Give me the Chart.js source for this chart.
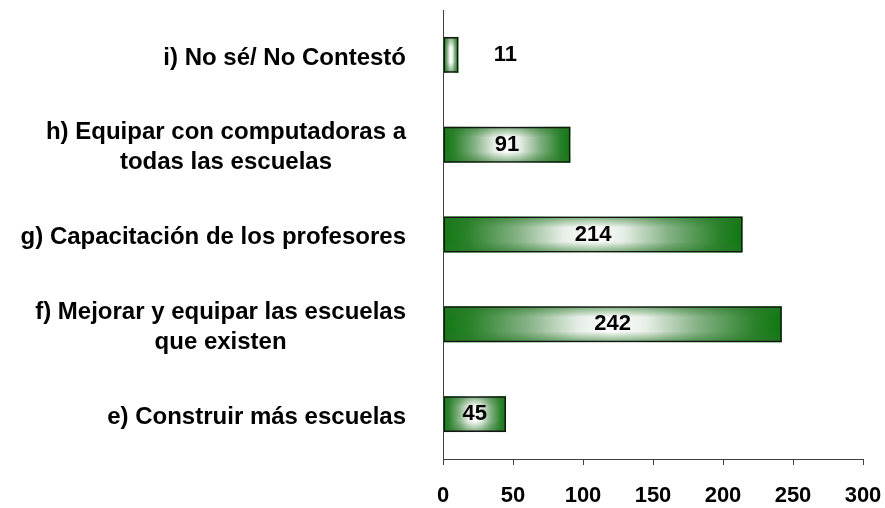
<!DOCTYPE html>
<html><head><meta charset="utf-8">
<script src="https://cdn.jsdelivr.net/npm/chart.js@4"></script>
<style>html,body{margin:0;padding:0;background:#fff}#w{width:885px;height:508px}</style>
</head><body><div id="w"><canvas id="c" width="885" height="508"></canvas></div>
<script>
const categories = [
  ["i) No sé/ No Contestó"],
  ["h) Equipar con computadoras a", "todas las escuelas"],
  ["g) Capacitación de los profesores"],
  ["f) Mejorar y equipar las escuelas", "que existen"],
  ["e) Construir más escuelas"]
];
const values = [11, 91, 214, 242, 45];
const xTicks = [0, 50, 100, 150, 200, 250, 300];

const FONT = '"Liberation Sans", Arial, sans-serif';
const CAT_SIZE = 24, VAL_SIZE = 22, TICK_SIZE = 22;

const barFill = {
  id: 'barFill',
  beforeDatasetsDraw(chart) {
    const ctx = chart.ctx;
    chart.getDatasetMeta(0).data.forEach(b => {
      const l = Math.min(b.base, b.x), r = Math.max(b.base, b.x);
      const t = b.y - b.height / 2, bt = b.y + b.height / 2;
      const w = r - l, h = bt - t;
      const g = ctx.createLinearGradient(l, 0, r, 0);
      g.addColorStop(0, '#147814');
      g.addColorStop(0.08, '#2a822a');
      g.addColorStop(0.25, '#86b286');
      g.addColorStop(0.4, '#e6eee6');
      g.addColorStop(0.5, '#ffffff');
      g.addColorStop(0.6, '#e6eee6');
      g.addColorStop(0.75, '#86b286');
      g.addColorStop(0.92, '#2a822a');
      g.addColorStop(1, '#107810');
      ctx.save();
      ctx.fillStyle = g;
      ctx.fillRect(l, t, w, h);
      const v = ctx.createLinearGradient(0, t, 0, bt);
      v.addColorStop(0, 'rgba(40,120,40,0.6)');
      v.addColorStop(0.3, 'rgba(40,120,40,0)');
      v.addColorStop(0.7, 'rgba(40,120,40,0)');
      v.addColorStop(1, 'rgba(40,120,40,0.6)');
      ctx.fillStyle = v;
      ctx.fillRect(l, t, w, h);
      ctx.restore();
    });
  },
  afterDatasetsDraw(chart) {
    const ctx = chart.ctx;
    ctx.save();
    ctx.font = 'bold ' + VAL_SIZE + 'px ' + FONT;
    ctx.fillStyle = '#000';
    ctx.textBaseline = 'middle';
    ctx.textAlign = 'center';
    chart.getDatasetMeta(0).data.forEach((b, i) => {
      const txt = String(values[i]);
      const tw = ctx.measureText(txt).width;
      const w = Math.abs(b.x - b.base);
      let x = (b.x + b.base) / 2;
      if (w < tw + 8) x = b.x + 47;
      ctx.fillText(txt, x, b.y);
    });
    ctx.restore();
  }
};

const catLabels = {
  id: 'catLabels',
  afterDraw(chart) {
    const ctx = chart.ctx;
    const ys = chart.scales.y;
    ctx.save();
    ctx.font = 'bold ' + CAT_SIZE + 'px ' + FONT;
    ctx.fillStyle = '#000';
    ctx.textBaseline = 'middle';
    ctx.textAlign = 'center';
    const lh = 30;
    const right = 406;
    categories.forEach((lines, i) => {
      const yc = ys.getPixelForTick(i) + 3;
      const n = lines.length;
      const bw = Math.max(...lines.map(ln => ctx.measureText(ln).width));
      const cx = right - bw / 2;
      lines.forEach((ln, k) => {
        ctx.fillText(ln, cx, yc + (k - (n - 1) / 2) * lh);
      });
    });
    ctx.restore();
  }
};

new Chart(document.getElementById('c'), {
  type: 'bar',
  data: {
    labels: categories.map(c => c.join(' ')),
    datasets: [{
      data: values,
      backgroundColor: 'rgba(0,0,0,0)',
      borderColor: '#141414',
      borderWidth: 1.5,
      borderSkipped: false,
      barPercentage: 0.4,
      categoryPercentage: 1
    }]
  },
  options: {
    indexAxis: 'y',
    responsive: false,
    animation: false,
    layout: { padding: { left: 0, right: 22, top: 10, bottom: 0 } },
    plugins: { legend: { display: false }, tooltip: { enabled: false } },
    scales: {
      x: {
        min: 0, max: 300,
        afterBuildTicks(s) { s.ticks = xTicks.map(v => ({ value: v })); },
        grid: { drawOnChartArea: false, drawTicks: true, tickLength: 6, color: '#404040' },
        border: { display: true, color: '#404040', width: 1 },
        ticks: { color: '#000', font: { family: FONT, size: TICK_SIZE, weight: 'bold' }, padding: 18, maxRotation: 0 },
        afterFit(s) { s.height = 49; s.paddingLeft = 0; s.paddingRight = 0; }
      },
      y: {
        grid: { display: false },
        border: { display: true, color: '#404040', width: 1 },
        ticks: { display: false },
        afterFit(s) { s.width = 443; }
      }
    }
  },
  plugins: [barFill, catLabels]
});
</script></body></html>
